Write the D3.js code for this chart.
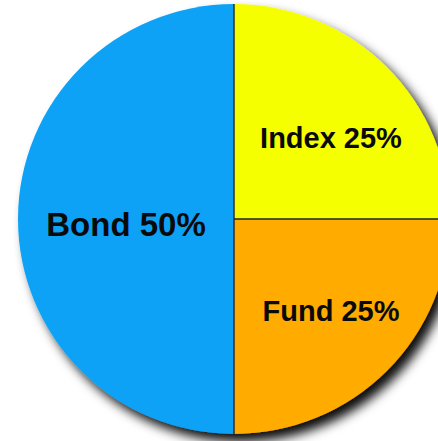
<!DOCTYPE html>
<html>
<head>
<meta charset="utf-8">
<script src="https://cdn.jsdelivr.net/npm/d3@7/dist/d3.min.js"></script>
<style>
  html, body { margin: 0; padding: 0; background: #ffffff; }
  svg { display: block; }
</style>
</head>
<body>
<svg id="chart" width="438" height="441"></svg>
<script>
// Portfolio allocation
const categories = ["Index", "Fund", "Bond"];
const shares = [25, 25, 50];
const sliceColors = ["#f5ff00", "#ffab00", "#0aa2f6"];
const labelSizes = [29, 29, 33];

const width = 438, height = 441;
const cx = 234, cy = 219, radius = 216;

const svg = d3.select("#chart");

// soft drop shadow falling to the lower right
const defs = svg.append("defs");
const shadow = defs.append("filter")
  .attr("id", "pieShadow")
  .attr("x", "-20%").attr("y", "-20%")
  .attr("width", "140%").attr("height", "140%");
shadow.append("feDropShadow")
  .attr("dx", 7).attr("dy", 8)
  .attr("stdDeviation", 5.5)
  .attr("flood-color", "#000000")
  .attr("flood-opacity", 0.95);

const data = categories.map((c, i) => ({ name: c, value: shares[i], color: sliceColors[i], size: labelSizes[i] }));

const pie = d3.pie().sort(null).value(d => d.value);
const arcs = pie(data);

const arc = d3.arc().innerRadius(0).outerRadius(radius);

const g = svg.append("g")
  .attr("transform", `translate(${cx},${cy}) scale(1,0.995)`);

// whole disc carries the shadow
g.append("g")
  .attr("filter", "url(#pieShadow)")
  .selectAll("path")
  .data(arcs)
  .join("path")
  .attr("d", arc)
  .attr("fill", d => d.data.color);

// slice dividers
g.append("g")
  .selectAll("line")
  .data(arcs)
  .join("line")
  .attr("x1", 0).attr("y1", 0)
  .attr("x2", d => radius * Math.sin(d.startAngle))
  .attr("y2", d => -radius * Math.cos(d.startAngle))
  .attr("stroke", "#1c2630")
  .attr("stroke-width", 1.4);

// labels near each slice centroid
const labelPoint = d => {
  const big = (d.endAngle - d.startAngle) > Math.PI * 0.75;
  const r = big ? radius * 0.5 : radius * 0.635;
  const [x, y] = d3.arc().innerRadius(r).outerRadius(r).centroid(d);
  return [x, y * 0.9];
};

g.append("g")
  .attr("transform", "translate(0,5)")
  .selectAll("text")
  .data(arcs)
  .join("text")
  .attr("transform", d => {
    const [x, y] = labelPoint(d);
    return `translate(${x},${y})`;
  })
  .attr("text-anchor", "middle")
  .attr("dy", "0.36em")
  .attr("font-family", "'Liberation Sans', Arial, Helvetica, sans-serif")
  .attr("font-weight", "bold")
  .attr("font-size", d => d.data.size)
  .attr("fill", "#0a0a0a")
  .text(d => `${d.data.name} ${d.data.value}%`);
</script>
</body>
</html>
